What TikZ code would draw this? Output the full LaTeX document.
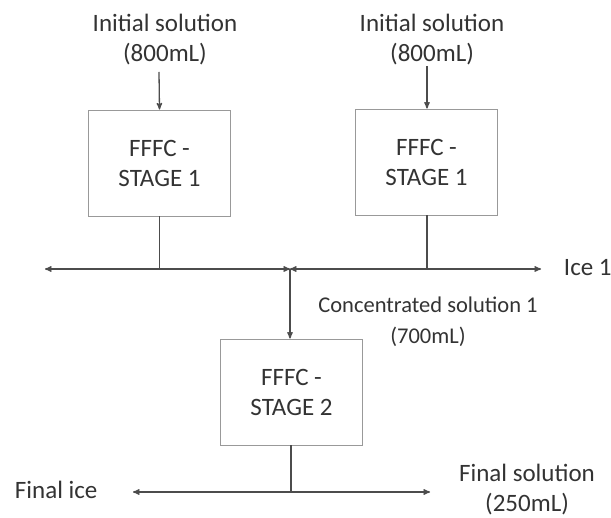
\documentclass[tikz,border=0pt]{standalone}
\usepackage{fontspec}
\setmainfont{Carlito}
\usetikzlibrary{arrows}
\usetikzlibrary{positioning}

\begin{document}
\begin{tikzpicture}[
		x=1pt,
		y=-1pt,
		->,
		>=stealth',
		line width=1.3pt,
		color=black!70,
		main node/.style={font=\fontsize{25}{30}\selectfont, text=black!80, align=center},
		stage node/.style={
			main node,
			draw=black!40,
			line width=0.9pt,
			minimum width=142pt,
			minimum height=106pt
		},
		small node/.style={main node, font=\fontsize{22.5}{31}\selectfont}
		]
		\useasboundingbox (0,0) rectangle (611,518);
		\node[main node] (init1) at (165,40) {Initial solution\\(800mL)};
		\node[main node] (init2) at (432,40) {Initial solution\\(800mL)};
		\node[stage node] (s1a) at (159.5,163) {FFFC -\\STAGE 1};
		\node[stage node] (s1b) at (426.5,162) {FFFC -\\STAGE 1};
		\node[stage node] (s2) at (291.5,392) {FFFC -\\STAGE 2};
		\node[main node, anchor=west] (ice1) at (560,268) {Ice 1};
		\node[small node] (conc) at (428,322) {Concentrated solution 1\\(700mL)};
		\node[main node, anchor=west] (fice) at (11,490) {Final ice};
		\node[main node] (fsol) at (527,490) {Final solution\\(250mL)};

		\coordinate (j) at (290,269);
		\coordinate (l1) at (45,269);
		\coordinate (r1) at (541,269);
		\coordinate (l2) at (133,492);
		\coordinate (r2) at (430,492);

		\draw (159,72) -- (s1a.north);
		\draw (427,66) -- (s1b.north -| 427,0);
		\draw[-] (s1a.south) -- (s1a.south |- j);
		\draw[-] (s1b.south -| 427,0) -- (427,269);
		\path[<->]
		(l1) edge (j)
		(j) edge (r1);
		\draw (j) -- (s2.north -| j);
		\draw[-] (s2.south -| 291,0) -- (291,492);
		\draw[<->] (l2) -- (r2);
	\end{tikzpicture}
\end{document}
